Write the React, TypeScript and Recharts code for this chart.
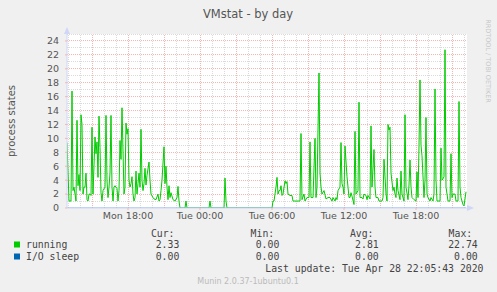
import { LineChart, Line, XAxis, YAxis, CartesianGrid, ReferenceLine } from "recharts";

// time axis: minutes since Monday 00:00, one munin sample every 5 minutes
const START_MIN = 775; // Mon 12:55
const STEP_MIN = 5;
const END_MIN = 2775; // Tue 22:15

// [sample number, processes running]
const runningSamples: [number, number][] = [
  [0, 9.4], [2, 1], [4, 1], [5, 16.8], [6, 2.5], [7, 3], [8, 2], [9, 1], [10, 12.6], [11, 3.2],
  [12, 4.8], [13, 2.5], [14, 13.4], [15, 12], [16, 2], [17, 3], [18, 3], [19, 5], [20, 1.2], [21, 1],
  [22, 2], [23, 2], [24, 1.8], [25, 11.6], [26, 2], [28, 10.2], [29, 7.8], [30, 9.5], [31, 4.4], [32, 13.2],
  [33, 8.7], [34, 2.2], [35, 1], [36, 2.5], [38, 3], [39, 13.3], [40, 3.9], [41, 1.5], [42, 3], [43, 5],
  [44, 13.3], [45, 3], [46, 1], [47, 3], [48, 3.2], [50, 2.8], [51, 1], [52, 2.5], [53, 9.7], [54, 7],
  [55, 14.4], [57, 2], [58, 3], [59, 12.2], [60, 10.6], [61, 11.4], [62, 4], [63, 3], [64, 3.5], [65, 4.5],
  [66, 2], [67, 1], [68, 1.5], [69, 5.3], [70, 2], [71, 3.5], [72, 5], [73, 3], [74, 11.3], [75, 4],
  [76, 2.5], [77, 3.5], [78, 5.7], [79, 3.3], [80, 4.7], [82, 6.6], [83, 4], [84, 2], [86, 1.5], [87, 1.3],
  [89, 1.2], [91, 2], [92, 1], [93, 1.2], [94, 2.5], [95, 4], [97, 8.8], [98, 3.5], [99, 6], [100, 3],
  [101, 1.2], [102, 3.2], [103, 1.5], [104, 2.2], [106, 1.2], [108, 1], [110, 1.5], [111, 3.1], [112, 1], [113, 0],
  [118, 0], [119, 1], [120, 0], [142, 0], [143, 1], [144, 0], [157, 0], [158, 4.3], [159, 1], [160, 0],
  [205, 0], [206, 1], [207, 1], [209, 3], [210, 4.4], [211, 2], [212, 2.5], [213, 2.5], [214, 3.2], [215, 1.8],
  [216, 2], [218, 3.9], [219, 3.5], [220, 3.8], [221, 2], [223, 1.8], [225, 1.8], [226, 1], [233, 1], [234, 10.7],
  [235, 1.2], [237, 2], [238, 1], [240, 1.5], [242, 1.5], [243, 9.5], [244, 1.5], [246, 1.5], [248, 10], [249, 1.5],
  [250, 3], [252, 19.4], [253, 5], [254, 3], [255, 2], [257, 2.5], [259, 1.3], [261, 1.5], [263, 1.5], [265, 1],
  [266, 1.5], [268, 1], [269, 1.5], [270, 1.2], [271, 2.5], [273, 3], [274, 9.4], [275, 3.5], [276, 3], [277, 2],
  [278, 8.9], [280, 4.5], [281, 3], [282, 1.5], [283, 1.5], [284, 2.2], [285, 1.7], [287, 0.5], [288, 11], [289, 2],
  [291, 2.5], [292, 15.2], [293, 1.5], [295, 1.5], [296, 1.3], [297, 2], [299, 1.8], [300, 1.2], [301, 1.8], [303, 1.3],
  [304, 11.8], [305, 3], [307, 8.4], [308, 3], [309, 1.5], [311, 1.5], [312, 1], [315, 1], [316, 1.5], [317, 7],
  [319, 2], [320, 1], [321, 12], [322, 11.2], [323, 11.6], [324, 5], [326, 2.5], [327, 3], [328, 2], [329, 1.5],
  [330, 4.3], [331, 2.5], [333, 1.2], [334, 5.3], [335, 2], [337, 1], [338, 13.4], [339, 3], [341, 1.2], [342, 3.3],
  [343, 6.9], [344, 3], [345, 1.5], [347, 1.2], [349, 1], [350, 5.2], [351, 1.5], [352, 9], [353, 18.4], [354, 9],
  [355, 7.5], [357, 1.5], [358, 4], [359, 13], [360, 2], [361, 1.5], [363, 1], [364, 1.5], [366, 1], [367, 2],
  [368, 17.1], [369, 4], [370, 1], [372, 1], [373, 1], [374, 8.6], [375, 4], [376, 4.2], [377, 4.5], [378, 22.74],
  [379, 3], [381, 1], [383, 1], [384, 7.8], [385, 1.5], [386, 2], [388, 2], [389, 1], [391, 1], [392, 15.3],
  [393, 3], [394, 1.5], [396, 0.5], [397, 0.3], [399, 2.33],
];

// I/O sleep stays at zero the whole day
const ioSleepSamples: [number, number][] = [[0, 0], [399, 0]];

const yTicks = [0, 2, 4, 6, 8, 10, 12, 14, 16, 18, 20, 22, 24];
const yGrid = [1, 2, 3, 4, 5, 6, 7, 8, 9, 10, 11, 12, 13, 14, 15, 16, 17, 18, 19, 20, 21, 22, 23, 24, 25];
const xTicks = [1080, 1440, 1800, 2160, 2520];
const xTickLabels = ["Mon 18:00", "Tue 00:00", "Tue 06:00", "Tue 12:00", "Tue 18:00"];
const hourGrid = [
  780, 840, 900, 960, 1020, 1080, 1140, 1200, 1260, 1320, 1380, 1440, 1500, 1560, 1620, 1680, 1740,
  1800, 1860, 1920, 1980, 2040, 2100, 2160, 2220, 2280, 2340, 2400, 2460, 2520, 2580, 2640, 2700, 2760,
];

const legendNames = ["running", "I/O sleep"];
const legendColors = ["#00cc00", "#0066b3"];
const statHeaders = ["Cur:", "Min:", "Avg:", "Max:"];
const statValues = [
  ["2.33", "0.00", "2.81", "22.74"],
  ["0.00", "0.00", "0.00", "0.00"],
];

const toRows = (s: [number, number][]) => s.map(([n, v]) => ({ t: START_MIN + n * STEP_MIN, v }));
const runningData = toRows(runningSamples);
const ioData = toRows(ioSleepSamples);

const GRID_MINOR = "#dadada";
const GRID_MAJOR = "#f8b4b4";
const AXIS = "#cfd6f8";
const FONT = "DejaVu Sans";
const MONO = "DejaVu Sans Mono";

const headerEnds = [174.5, 274.2, 373.5, 472.2];
const valueEnds = [179.3, 279.3, 378.7, 477.7];

// crisp 1px dotted grid line (snapped to the pixel centre)
const dotted = (color: string) => (p: any) => {
  const snap = (n: number) => Math.floor(n) + 0.5;
  const vertical = Math.abs(p.x1 - p.x2) < 0.01;
  return (
    <line
      x1={vertical ? snap(p.x1) : p.x1}
      x2={vertical ? snap(p.x2) : p.x2}
      y1={vertical ? p.y1 : snap(p.y1)}
      y2={vertical ? p.y2 : snap(p.y2)}
      stroke={color}
      strokeWidth={1}
      strokeDasharray="1 1"
      shapeRendering="crispEdges"
    />
  );
};

export default function App() {
  return (
    <div style={{ position: "absolute", left: 0, top: 0, width: 497, height: 292, background: "#f0f0f0" }}>
      <LineChart width={497} height={292} margin={{ top: 34, right: 30, bottom: 64, left: 27 }}>
        <CartesianGrid fill="#ffffff" horizontal={false} vertical={false} />
        {hourGrid.map((h) => (
          <ReferenceLine key={"h" + h} x={h} shape={dotted((h / 60) % 3 === 0 ? GRID_MAJOR : GRID_MINOR)} />
        ))}
        {yGrid.map((v) => (
          <ReferenceLine key={"v" + v} y={v} shape={dotted(v % 2 === 0 ? GRID_MAJOR : GRID_MINOR)} />
        ))}
        <XAxis
          type="number"
          dataKey="t"
          domain={[START_MIN, END_MIN]}
          ticks={xTicks}
          interval={0}
          tickFormatter={(t: number) => xTickLabels[xTicks.indexOf(t)]}
          height={20}
          tickSize={2}
          tickMargin={2}
          stroke={AXIS}
          tickLine={{ stroke: GRID_MAJOR }}
          tick={{ fontSize: 9.5, fill: "#555", fontFamily: FONT }}
          allowDataOverflow
        />
        <YAxis
          type="number"
          domain={[0, 25]}
          ticks={yTicks}
          interval={0}
          width={40}
          tickSize={2}
          tickMargin={6}
          stroke={AXIS}
          tickLine={{ stroke: GRID_MAJOR }}
          tick={{ fontSize: 9.5, fill: "#555", fontFamily: FONT }}
          allowDataOverflow
        />
        <Line
          data={runningData}
          dataKey="v"
          type="linear"
          stroke="#00cc00"
          strokeWidth={1}
          dot={false}
          isAnimationActive={false}
        />
        <Line
          data={ioData}
          dataKey="v"
          type="linear"
          stroke="#0066b3"
          strokeOpacity={0.4}
          strokeWidth={1.5}
          dot={false}
          isAnimationActive={false}
        />
      </LineChart>
      <svg
        width={497}
        height={292}
        style={{ position: "absolute", left: 0, top: 0, pointerEvents: "none" }}
      >
        <polygon points="64,34 70,34 67,27" fill={AXIS} />
        <polygon points="467,205 467,211 474,208" fill={AXIS} />
        <text x={248} y={18} textAnchor="middle" fontFamily={FONT} fontSize={11.5} fill="#555">
          VMstat - by day
        </text>
        <text
          x={11}
          y={121}
          textAnchor="middle"
          dominantBaseline="central"
          transform="rotate(-90 11 121)"
          fontFamily={FONT}
          fontSize={10}
          fill="#555"
        >
          process states
        </text>
        <text
          x={488}
          y={61}
          textAnchor="middle"
          dominantBaseline="central"
          transform="rotate(90 488 61)"
          fontFamily={FONT}
          fontSize={6.5}
          fill="#c8c8c8"
        >
          RRDTOOL / TOBI OETIKER
        </text>
        {statHeaders.map((h, i) => (
          <text key={h} x={headerEnds[i]} y={236.6} textAnchor="end" fontFamily={MONO} fontSize={9.8} fill="#444">
            {h}
          </text>
        ))}
        {legendNames.map((name, r) => (
          <g key={name}>
            <rect x={14} y={241.5 + r * 12} width={6} height={6} fill={legendColors[r]} />
            <text x={26} y={248.3 + r * 12} fontFamily={MONO} fontSize={9.8} fill="#444">
              {name}
            </text>
            {statValues[r].map((val, i) => (
              <text
                key={i}
                x={valueEnds[i]}
                y={248.3 + r * 12}
                textAnchor="end"
                fontFamily={MONO}
                fontSize={9.8}
                fill="#444"
              >
                {val}
              </text>
            ))}
          </g>
        ))}
        <text x={483.5} y={272.3} textAnchor="end" fontFamily={MONO} fontSize={9.8} fill="#444">
          Last update: Tue Apr 28 22:05:43 2020
        </text>
        <text x={248} y={283.6} textAnchor="middle" fontFamily={FONT} fontSize={8} fill="#bbb">
          Munin 2.0.37-1ubuntu0.1
        </text>
      </svg>
    </div>
  );
}
